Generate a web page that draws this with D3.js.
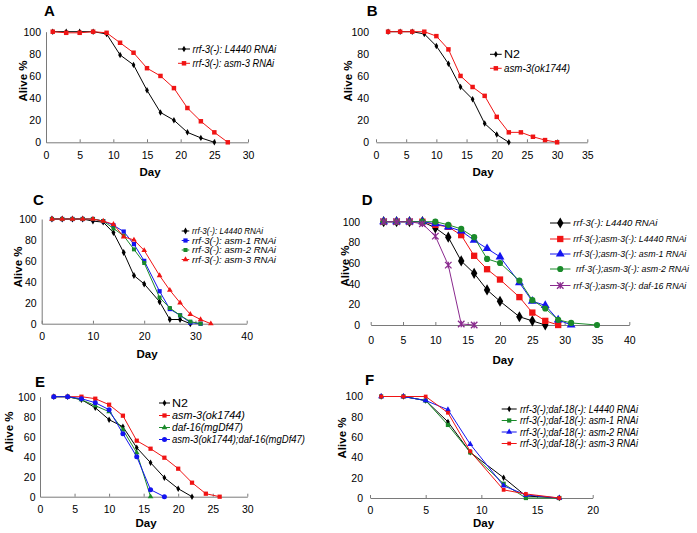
<!DOCTYPE html>
<html><head><meta charset="utf-8">
<script src="https://cdn.jsdelivr.net/npm/d3@7"></script>
<style>body{margin:0;background:#fff}</style>
</head><body><svg id="c" width="697" height="533"></svg>
<script>
// ---------- DATA ----------
// Panel A
const aDaysL4440 = [1,3,5,7,9,11,13,15,17,19,21,23,25];
const aL4440     = [100,100,100,100,98,79,70,47,27,20,9,4,0];
const aDaysAsm3  = [1,3,5,7,9,11,13,15,17,19,21,23,25,27];
const aAsm3      = [100,99,99,100,99,90,81,67,60,49,31,19,9,0];
const aXTicks = [0,5,10,15,20,25,30];
// Panel B
const bDaysN2   = [2,4,6,8,10,12,14,16,18,20,22];
const bN2       = [100,100,100,98,87,71,50,39,17,7,0];
const bDaysAsm3 = [2,4,6,8,10,12,14,16,18,20,22,24,26,28,30];
const bAsm3     = [100,100,100,100,96,84,60,50,42,23,9,9,5,2,0];
const bXTicks = [0,5,10,15,20,25,30,35];
// Panel C
const cDaysL4440 = [2,4,6,8,10,12,14,16,18,20,23,25,27,29];
const cL4440     = [100,100,100,100,98,97,87,68,46,38,21,4,4,0];
const cDaysAsm12 = [2,4,6,8,10,12,14,16,18,20,23,25,27,29,31];
const cAsm1      = [100,100,100,100,100,98,94,88,76,60,31,14,8,1,0];
const cAsm2      = [100,100,100,100,100,98,91,84,71,58,25,15,8,2,0];
const cDaysAsm3  = [2,4,6,8,10,12,14,16,18,20,23,25,27,29,31,33];
const cAsm3      = [100,100,100,100,100,98,95,83,80,70,46,32,20,9,4,0];
const cXTicks = [0,10,20,30,40];
// Panel D
const dDaysL4440   = [2,4,6,8,10,12,14,16,18,20,23,25,27];
const dL4440       = [100,100,100,100,94,85,62,50,34,23,8,4,0];
const dDaysAsmL    = [2,4,6,8,10,12,14,16,18,20,23,25,27,29];
const dAsmL4440    = [100,100,100,100,97,95,87,67,54,44,27,12,4,0];
const dDaysAsm1    = [2,4,6,8,10,12,14,16,18,20,23,25,27,29,31];
const dAsm1        = [100,100,100,100,98,95,91,82,74,66,41,23,19,5,0];
const dDaysAsm2    = [2,4,6,8,10,12,14,16,18,20,23,25,27,29,31,35];
const dAsm2        = [100,100,100,100,100,97,93,85,64,60,43,24,16,5,2,0];
const dDaysDaf16   = [2,4,6,8,10,12,14,16];
const dDaf16       = [100,100,100,98,86,58,1,0];
const dXTicks = [0,5,10,15,20,25,30,35,40];
// Panel E
const eDaysN2    = [2,4,6,8,10,12,14,16,18,20,22];
const eN2        = [100,100,97,89,77,70,49,34,19,8,0];
const eDaysAsm3  = [2,4,6,8,10,12,14,16,18,20,22,24,26];
const eAsm3      = [100,100,100,98,92,81,56,48,39,28,14,3,0];
const eDaysDaf16 = [2,4,6,8,10,12,14,16];
const eDaf16     = [100,100,97,91,85,67,44,0];
const eDaysDouble= [2,4,6,8,10,12,14,16,18];
const eDouble    = [100,100,98,94,87,63,40,7,0];
const eXTicks = [0,5,10,15,20,25,30];
// Panel F
const fDays  = [1,3,5,7,9,12,14,17];
const fL4440 = [100,100,96,75,45,20,2,0];
const fAsm1  = [100,100,96,72,45,14,0,0];
const fAsm2  = [100,100,96,87,53,12,3,0];
const fAsm3  = [100,100,100,84,46,8,4,0];
const fXTicks = [0,5,10,15,20];
// shared
const yTicks = [0,20,40,60,80,100];

// ---------- STYLE ----------
const FONT = "'Liberation Sans', Arial, sans-serif";
const RED = "#f01414", BLUE = "#1414f0", GREEN = "#1a8a2a", PURPLE = "#8a2a8e", BLACK = "#000";
const AXIS = "#7a7a7a";
const svg = d3.select("#c");

function asteriskPath(s){
  const h = s/2;
  return `M${-h},${-h}L${h},${h}M${-h},${h}L${h},${-h}M0,${-h}L0,${h}`;
}
function drawMarker(g, type, size, color, cx, cy){
  if (type === "asterisk"){
    g.append("path").attr("d", asteriskPath(size)).attr("transform",`translate(${cx},${cy})`)
      .attr("fill","none").attr("stroke",color).attr("stroke-width",1.3);
  } else {
    const sym = {diamond:d3.symbolDiamond, square:d3.symbolSquare, triangle:d3.symbolTriangle, circle:d3.symbolCircle}[type];
    g.append("path").attr("d", d3.symbol().type(sym).size(size)()).attr("transform",`translate(${cx},${cy})`)
      .attr("fill",color).attr("stroke","none");
  }
}

function panel(cfg){
  const x = d3.scaleLinear().domain([0,cfg.xmax]).range([cfg.x0,cfg.x1]);
  const y = d3.scaleLinear().domain([0,100]).range([cfg.y0,cfg.y100]);
  const g = svg.append("g");

  // x axis
  const gx = g.append("g").attr("transform",`translate(0,${cfg.y0})`)
    .call(d3.axisBottom(x).tickValues(cfg.xticks).tickSizeInner(-3).tickSizeOuter(0).tickPadding(cfg.xpad));
  gx.select(".domain").attr("stroke",AXIS);
  gx.selectAll(".tick line").attr("stroke",AXIS);
  gx.selectAll("text").attr("font-family",FONT).attr("font-size",10.5).attr("fill","#000");

  // y axis
  const gy = g.append("g").attr("transform",`translate(${cfg.x0},0)`)
    .call(d3.axisLeft(y).tickValues(yTicks).tickSize(0).tickPadding(cfg.ypad));
  if (cfg.yLine) gy.select(".domain").attr("stroke",AXIS);
  else gy.select(".domain").remove();
  gy.selectAll("text").attr("font-family",FONT).attr("font-size",10.5).attr("fill","#000");

  // series
  const line = d3.line().x(d=>x(d[0])).y(d=>y(d[1]));
  cfg.series.forEach(s=>{
    const pts = d3.zip(s.days, s.vals);
    g.append("path").datum(pts).attr("d",line).attr("fill","none")
      .attr("stroke",s.color).attr("stroke-width",s.lw||1);
    pts.forEach(p=>drawMarker(g, s.marker, s.size, s.color, x(p[0]), y(p[1])));
  });

  // legend
  const L = cfg.legend;
  cfg.series.forEach((s,i)=>{
    const ly = L.ys[i];
    g.append("line").attr("x1",L.lx0).attr("x2",L.lx1).attr("y1",ly).attr("y2",ly)
      .attr("stroke",s.color).attr("stroke-width",s.lw||1);
    drawMarker(g, s.marker, s.size, s.color, (L.lx0+L.lx1)/2, ly);
    const t = g.append("text").attr("x",L.tx + (L.dx ? L.dx[i] : 0)).attr("y",ly).attr("dy","0.35em")
      .attr("font-family",FONT).attr("font-size",L.fs).attr("font-style", s.italic===false?"normal":"italic")
      .text(s.label);
    if (L.widths && L.widths[i]) t.attr("textLength",L.widths[i]).attr("lengthAdjust","spacingAndGlyphs");
  });

  // panel letter
  g.append("text").attr("x",cfg.letter[0]).attr("y",cfg.letter[1]).attr("font-family",FONT)
    .attr("font-weight","bold").attr("font-size",15).text(cfg.name);
  // axis titles
  g.append("text").attr("transform",`translate(${cfg.ylab[0]},${cfg.ylab[1]}) rotate(-90)`)
    .attr("text-anchor","middle").attr("dy","0.35em").attr("font-family",FONT)
    .attr("font-weight","bold").attr("font-size",11.5).text("Alive %");
  g.append("text").attr("x",cfg.xlab[0]).attr("y",cfg.xlab[1]).attr("text-anchor","middle")
    .attr("dy","0.35em").attr("font-family",FONT).attr("font-weight","bold").attr("font-size",11.5).text("Day");
}

// ---------- PANELS ----------
panel({name:"A", x0:46, x1:248, xmax:30, y0:142.3, y100:31.7, xticks:aXTicks, xpad:9.5, ypad:5, yLine:true,
  letter:[44,15.5], ylab:[23,81], xlab:[150,171.5],
  series:[
    {label:"rrf-3(-): L4440 RNAi", days:aDaysL4440, vals:aL4440, color:BLACK, marker:"diamond", size:12},
    {label:"rrf-3(-): asm-3 RNAi", days:aDaysAsm3, vals:aAsm3, color:RED, marker:"square", size:20}
  ],
  legend:{lx0:178, lx1:190, tx:192.5, ys:[49,63.3], fs:10, widths:[83.7,81.7]}
});
panel({name:"B", x0:376, x1:587.3, xmax:35, y0:142.3, y100:31.7, xticks:bXTicks, xpad:9.4, ypad:7, yLine:false,
  letter:[366.7,15.5], ylab:[348,81], xlab:[483,171.5],
  series:[
    {label:"N2", days:bDaysN2, vals:bN2, color:BLACK, marker:"diamond", size:12, italic:false},
    {label:"asm-3(ok1744)", days:bDaysAsm3, vals:bAsm3, color:RED, marker:"square", size:20}
  ],
  legend:{lx0:490, lx1:501.7, tx:504, ys:[54.3,68.3], fs:10.5, widths:[16,66]}
});
panel({name:"C", x0:41.7, x1:246.7, xmax:40, y0:323.7, y100:219, xticks:cXTicks, xpad:9.3, ypad:5, yLine:true,
  letter:[33,205], ylab:[18,267], xlab:[147,354],
  series:[
    {label:"rrf-3(-): L4440 RNAi", days:cDaysL4440, vals:cL4440, color:BLACK, marker:"diamond", size:14},
    {label:"rrf-3(-): asm-1 RNAi", days:cDaysAsm12, vals:cAsm1, color:BLUE, marker:"square", size:18},
    {label:"rrf-3(-): asm-2 RNAi", days:cDaysAsm12, vals:cAsm2, color:GREEN, marker:"square", size:16},
    {label:"rrf-3(-): asm-3 RNAi", days:cDaysAsm3, vals:cAsm3, color:RED, marker:"triangle", size:14}
  ],
  legend:{lx0:181.7, lx1:189.3, tx:192, ys:[231,240.5,250,259.5], fs:9.8, widths:[71,84,84,84]}
});
panel({name:"D", x0:370.7, x1:629.3, xmax:40, y0:325, y100:221.7, xticks:dXTicks, xpad:11.7, ypad:10.5, yLine:false,
  letter:[361.7,205], ylab:[345,266], xlab:[503,360],
  series:[
    {label:"rrf-3(-): L4440 RNAi", days:dDaysL4440, vals:dL4440, color:BLACK, marker:"diamond", size:36},
    {label:"rrf-3(-);asm-3(-): L4440 RNAi", days:dDaysAsmL, vals:dAsmL4440, color:RED, marker:"square", size:40},
    {label:"rrf-3(-);asm-3(-): asm-1 RNAi", days:dDaysAsm1, vals:dAsm1, color:BLUE, marker:"triangle", size:34},
    {label:"rrf-3(-);asm-3(-): asm-2 RNAi", days:dDaysAsm2, vals:dAsm2, color:GREEN, marker:"circle", size:30},
    {label:"rrf-3(-);asm-3(-): daf-16 RNAi", days:dDaysDaf16, vals:dDaf16, color:PURPLE, marker:"asterisk", size:6.5}
  ],
  legend:{lx0:550, lx1:570.5, tx:573.3, dx:[0,0,0,2.7,0], ys:[223,239,254,269,285.5], fs:9.2, widths:[84,113,113,113,113]}
});
panel({name:"E", x0:40, x1:247.3, xmax:30, y0:496.7, y100:396.7, xticks:eXTicks, xpad:9, ypad:4.5, yLine:true,
  letter:[35,386.7], ylab:[9,432], xlab:[146,523],
  series:[
    {label:"N2", days:eDaysN2, vals:eN2, color:BLACK, marker:"diamond", size:12, italic:false},
    {label:"asm-3(ok1744)", days:eDaysAsm3, vals:eAsm3, color:RED, marker:"square", size:18},
    {label:"daf-16(mgDf47)", days:eDaysDaf16, vals:eDaf16, color:GREEN, marker:"triangle", size:14},
    {label:"asm-3(ok1744);daf-16(mgDf47)", days:eDaysDouble, vals:eDouble, color:BLUE, marker:"circle", size:20}
  ],
  legend:{lx0:159, lx1:170, tx:172, ys:[403,415.5,427.5,439.5], fs:10.5, widths:[16,73,71,133]}
});
panel({name:"F", x0:370, x1:592.7, xmax:20, y0:498, y100:396.5, xticks:fXTicks, xpad:8.7, ypad:7, yLine:false,
  letter:[365,385], ylab:[342,438], xlab:[483.5,523],
  series:[
    {label:"rrf-3(-);daf-18(-): L4440 RNAi", days:fDays, vals:fL4440, color:BLACK, marker:"diamond", size:12},
    {label:"rrf-3(-);daf-18(-): asm-1 RNAi", days:fDays, vals:fAsm1, color:GREEN, marker:"square", size:18},
    {label:"rrf-3(-);daf-18(-): asm-2 RNAi", days:fDays, vals:fAsm2, color:BLUE, marker:"triangle", size:16},
    {label:"rrf-3(-);daf-18(-): asm-3 RNAi", days:fDays, vals:fAsm3, color:RED, marker:"square", size:14}
  ],
  legend:{lx0:501.7, lx1:516.7, tx:520, ys:[409,420.5,432,443.5], fs:10, widths:[118,118,118,118]}
});
</script></body></html>
